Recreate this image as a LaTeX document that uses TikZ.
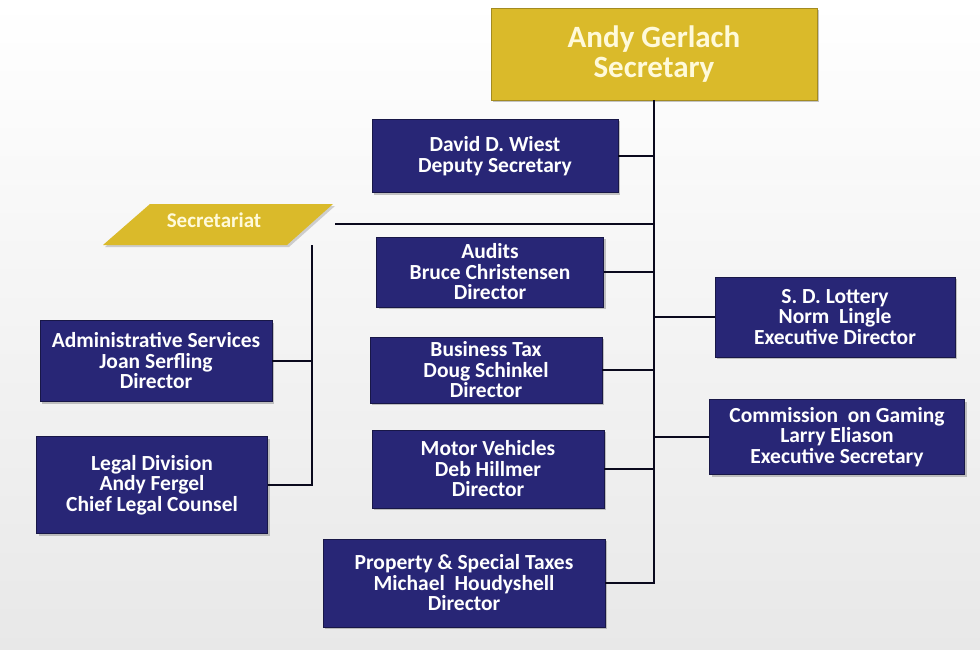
\documentclass[tikz,border=0pt]{standalone}
\usepackage{fontspec}
\setmainfont{Carlito}
\usetikzlibrary{calc,shadows}
\definecolor{navy}{RGB}{40,38,118}
\definecolor{gold}{RGB}{218,186,42}
\definecolor{cream}{RGB}{255,250,218}
\tikzset{
  unit/.style={fill=navy, draw=navy!60!black, text=white, align=center, inner sep=1pt,
    font=\bfseries\fontsize{21.5}{20.5}\selectfont,
    drop shadow={shadow xshift=2pt,shadow yshift=-2pt,opacity=.45}},
  head/.style={unit, fill=gold, draw=gold!75!black, text=cream,
    font=\bfseries\fontsize{31}{30}\selectfont},
  link/.style={draw=black!75!navy, line width=1.6pt},
}
\begin{document}
\begin{tikzpicture}[x=1pt,y=-1pt]
\shade[top color=white,bottom color=black!9] (0,0) rectangle (980,650);
\useasboundingbox (0,0) rectangle (980,650);

\node[head, minimum width=326pt, minimum height=92pt] (sec) at (654,54) {Andy Gerlach\\Secretary};
\node[unit, minimum width=246pt, minimum height=73pt] (dep) at (495,156) {David D. Wiest\\Deputy Secretary};
% secretariat
\fill[gold, drop shadow={shadow xshift=2pt,shadow yshift=-2pt,opacity=.35}]
  (103,245) -- (150,204) -- (333,204) -- (287,245) -- cycle;
\node[text=cream, font=\bfseries\fontsize{21}{20}\selectfont] (sct) at (214,220) {Secretariat};
\node[unit, minimum width=227pt, minimum height=70pt] (aud) at (490,272) {Audits\\Bruce Christensen\\Director};
\node[unit, minimum width=232pt, minimum height=66pt] (bus) at (486,370) {Business Tax\\Doug Schinkel\\Director};
\node[unit, minimum width=232pt, minimum height=78pt] (mot) at (488,469) {Motor Vehicles\\Deb Hillmer\\Director};
\node[unit, minimum width=282pt, minimum height=88pt] (prop) at (464,583) {Property \& Special Taxes\\Michael~ Houdyshell\\Director};
\node[unit, minimum width=240pt, minimum height=80pt] (lot) at (835,317) {S. D. Lottery\\Norm~ Lingle\\Executive Director};
\node[unit, minimum width=255pt, minimum height=75pt] (com) at (837,437) {Commission~ on Gaming\\Larry Eliason\\Executive Secretary};
\node[unit, minimum width=232pt, minimum height=81pt] (adm) at (156,361) {Administrative Services\\Joan Serfling\\Director};
\node[unit, minimum width=231pt, minimum height=97pt] (leg) at (152,485) {Legal Division\\Andy Fergel\\Chief Legal Counsel};

% main line
\draw[link] (sec.south) -- (sec.south |- prop.east) -- (prop.east);
\foreach \n in {dep,aud,bus,mot}
  \draw[link] (\n.east) -- (sec.south |- \n.east);
\foreach \n in {lot,com}
  \draw[link] (\n.west) -- (sec.south |- \n.west);

% secretariat branch
\coordinate (s1) at (335,224);
\coordinate (s2) at (312,245);
\draw[link] (s1) -- (s1 -| sec.south);
\draw[link] (s2) -- (s2 |- leg.east) -- (leg.east);
\draw[link] (adm.east) -- (adm.east -| s2);
\end{tikzpicture}
\end{document}
